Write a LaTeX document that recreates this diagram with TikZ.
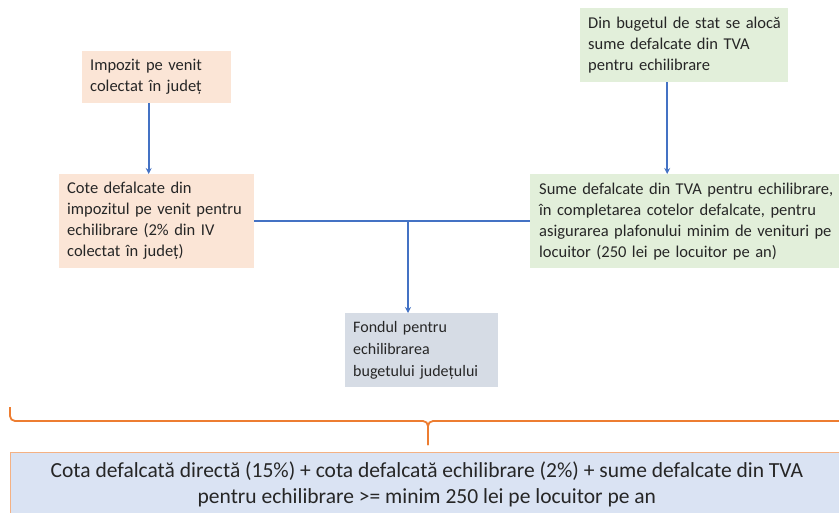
\documentclass[tikz,border=0pt]{standalone}
\usepackage{fontspec}
\setmainfont{Carlito}
\usetikzlibrary{arrows.meta}
\definecolor{peach}{HTML}{FBE5D6}
\definecolor{leaf}{HTML}{E2EFDA}
\definecolor{slate}{HTML}{D6DCE5}
\definecolor{sky}{HTML}{DAE3F3}
\definecolor{flow}{HTML}{4472C4}
\definecolor{brace}{HTML}{ED7D31}
\definecolor{rim}{HTML}{F4B183}
\definecolor{ink}{HTML}{262626}
\tikzset{
  box/.style={anchor=north west, align=left, inner xsep=8pt, inner ysep=0pt,
    text=ink, font=\fontsize{16.5}{21}\selectfont},
  flowline/.style={draw=flow, line width=1.8pt},
  flowarrow/.style={flowline, -{Stealth[length=6pt,width=6pt]}},
}
\begin{document}
\begin{tikzpicture}[x=1pt,y=-1pt]
      \useasboundingbox (0,0) rectangle (839,512);
      \node[box, fill=peach, text width=133pt, minimum height=52pt] (impozit) at (82,51)
        {Impozit pe venit\\colectat în județ};
      \node[box, fill=peach, text width=179pt, minimum height=94pt] (cote) at (59,174)
        {Cote defalcate din\\impozitul pe venit pentru\\echilibrare (2\% din IV\\colectat în județ)};
      \node[box, fill=leaf, text width=198pt, minimum height=74pt, inner xsep=5pt] (buget) at (580,8)
        {\hspace*{3pt}Din bugetul de stat se alocă\\\hspace*{3pt}sume defalcate din TVA\\\hspace*{3pt}pentru echilibrare};
      \node[box, fill=leaf, text width=300pt, minimum height=94pt, inner xsep=9pt] (sume) at (530,174)
        {Sume defalcate din TVA pentru echilibrare,\\în completarea cotelor defalcate, pentru\\asigurarea plafonului minim de venituri pe\\locuitor (250 lei pe locuitor pe an)};
      \node[box, fill=slate, text width=137pt, minimum height=74pt,
        font=\fontsize{16}{22}\selectfont] (fond) at (345,313)
        {Fondul pentru\\echilibrarea\\bugetului județului};
      \node[anchor=north west, fill=sky, draw=rim, line width=0.8pt, minimum width=833pt,
        minimum height=64pt, align=center, text=ink, font=\fontsize{21.5}{26}\selectfont] (total) at (10,452)
        {Cota defalcată directă (15\%) + cota defalcată echilibrare (2\%) + sume defalcate din TVA\\pentru echilibrare >= minim 250 lei pe locuitor pe an};
      \coordinate (join) at (408,221);
      \begin{scope}
        \draw[flowarrow] ([xshift=-8pt]impozit.south) -- ([xshift=-8pt]impozit.south |- cote.north);
        \draw[flowarrow] ([xshift=-17pt]buget.south) -- ([xshift=-17pt]buget.south |- sume.north);
        \draw[flowline] (cote.east) -- (sume.west);
        \draw[flowarrow] (join) -- (join |- fond.north);
      \end{scope}
      % acolada
      \draw[brace, line width=1.8pt, rounded corners=5pt] (10,407) -- (10,421) -- (428,421) -- (428,445);
      \draw[brace, line width=1.8pt, rounded corners=5pt] (845,421) -- (428,421) -- (428,445);
    \end{tikzpicture}
\end{document}
